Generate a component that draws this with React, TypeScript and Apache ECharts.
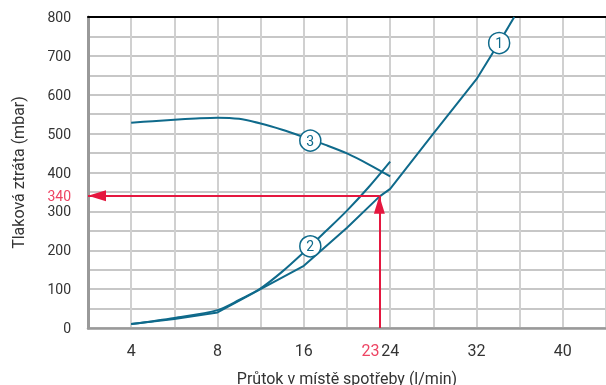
import React, { useEffect, useRef } from "react";
import * as echarts from "echarts";

// Flow (l/min) and pressure loss (mbar) for each curve
const flow1 = [4, 6, 8, 16, 20, 23, 24, 28, 32, 34, 35.5];
const loss1 = [10, 23, 40, 160, 258, 338, 358, 500, 640, 730, 800];

const flow2 = [4, 6, 8, 10, 12, 14, 16, 18, 20, 22, 24];
const loss2 = [10, 26, 46, 72, 102, 145, 195, 248, 302, 362, 428];

const flow3 = [4, 5, 6, 7, 8, 10, 12, 14, 16, 18, 20, 22, 24];
const loss3 = [528, 532, 536, 539, 541, 538, 526, 510, 491, 471, 449, 421, 390];

// Curve markers: [flow, loss, label]
const marker1: [number, number, string] = [34.1, 733, "1"];
const marker2: [number, number, string] = [16.6, 210, "2"];
const marker3: [number, number, string] = [16.6, 482, "3"];

// Reading example
const readFlow = 23;
const readLoss = 340;

// Tick labels of the piecewise flow axis
const xTickFlows = [4, 8, 16, 24, 32, 40];

const TEAL = "#0f6a8b";
const RED = "#e5173f";
const TEXT = "#333333";

// piecewise flow axis: 4..8 same width as 8..16, 16..24, ...
const toAxis = (q: number) => (q <= 8 ? 1 + (q - 4) / 4 : 2 + (q - 8) / 8);

const pts = (f: number[], l: number[]) => f.map((q, i) => [toAxis(q), l[i]]);

const markPointFor = (m: [number, number, string]) => ({
  symbol: "circle",
  symbolSize: 21,
  itemStyle: { color: "#ffffff", borderColor: TEAL, borderWidth: 1.5 },
  label: {
    show: true,
    position: "inside",
    formatter: m[2],
    color: TEAL,
    fontSize: 14,
    fontFamily: "Roboto",
  },
  data: [{ coord: [toAxis(m[0]), m[1]] }],
});

export default function App() {
  const ref = useRef<HTMLDivElement>(null);
  useEffect(() => {
    if (!ref.current) return;
    const chart = echarts.init(ref.current, null, { renderer: "svg" });
    const xLabelMap: Record<string, string> = {};
    xTickFlows.forEach((q) => (xLabelMap[String(toAxis(q))] = String(q)));

    const lineSeries = (data: number[][], m: [number, number, string], smooth: boolean | number) => ({
      type: "line",
      data,
      smooth,
      symbol: "none",
      lineStyle: { color: TEAL, width: 2 },
      markPoint: markPointFor(m),
      z: 3,
    });

    chart.setOption({
      animation: false,
      textStyle: { fontFamily: "Roboto", color: TEXT },
      grid: {
        left: 88,
        top: 17,
        right: 0,
        bottom: 57,
        containLabel: false,
        outerBoundsMode: "none",
      },
      xAxis: [
        {
          type: "value",
          min: 0.5,
          max: 6.5,
          interval: 0.5,
          position: "bottom",
          name: "Průtok v místě spotřeby (l/min)",
          nameLocation: "middle",
          nameGap: 42,
          nameTextStyle: { fontSize: 16, color: TEXT, fontFamily: "Roboto" },
          axisLine: { show: true, onZero: false, lineStyle: { color: "#999999", width: 2.5 } },
          axisTick: { show: false },
          axisLabel: {
            fontSize: 16,
            color: TEXT,
            margin: 14,
            showMinLabel: false,
            showMaxLabel: false,
            formatter: (v: number) => xLabelMap[String(v)] ?? "",
          },
          splitLine: { show: true, lineStyle: { color: "#d0d0d0", width: 2 } },
        },
        {
          type: "value",
          min: 0.5,
          max: 6.5,
          position: "bottom",
          axisLine: { show: false },
          axisTick: { show: false },
          splitLine: { show: false },
          axisLabel: {
            customValues: [toAxis(readFlow)],
            formatter: () => String(readFlow),
            align: "right",
            fontSize: 16,
            color: "#ee4463",
            margin: 14,
          },
        },
        {
          type: "value",
          min: 0.5,
          max: 6.5,
          position: "top",
          axisLine: { show: true, onZero: false, lineStyle: { color: "#000000", width: 2 } },
          axisTick: { show: false },
          axisLabel: { show: false },
          splitLine: { show: false },
        },
      ],
      yAxis: [
        {
          type: "value",
          min: 0,
          max: 800,
          interval: 50,
          name: "Tlaková ztráta (mbar)",
          nameLocation: "middle",
          nameGap: 62,
          nameTextStyle: { fontSize: 16, color: TEXT, fontFamily: "Roboto" },
          axisLine: { show: true, onZero: false, lineStyle: { color: "#999999", width: 3 } },
          axisTick: { show: false },
          axisLabel: {
            fontSize: 14,
            color: TEXT,
            margin: 17,
            formatter: (v: number) => (v % 100 === 0 ? String(v) : ""),
          },
          splitLine: { show: true, lineStyle: { color: "#b4b4b4", width: 1.5 } },
        },
        {
          type: "value",
          min: 0,
          max: 800,
          position: "left",
          axisLine: { show: false },
          axisTick: { show: false },
          splitLine: { show: false },
          axisLabel: {
            customValues: [readLoss],
            fontSize: 14,
            color: "#ee4463",
            margin: 17,
          },
        },
      ],
      series: [
        lineSeries(pts(flow1, loss1), marker1, false),
        lineSeries(pts(flow2, loss2), marker2, 0.3),
        lineSeries(pts(flow3, loss3), marker3, 0.3),
        {
          type: "line",
          data: [],
          symbol: "none",
          markLine: {
            silent: true,
            lineStyle: { color: RED, width: 2, type: "solid" },
            label: { show: false },
            emphasis: { disabled: true },
            data: [
              [
                { coord: [toAxis(readFlow), 0], symbol: "none" },
                {
                  coord: [toAxis(readFlow), readLoss],
                  symbol: "triangle",
                  symbolSize: [11, 18],
                  symbolOffset: [0, 9],
                },
              ],
              [
                { coord: [toAxis(readFlow), readLoss], symbol: "none" },
                {
                  coord: [0.5, readLoss],
                  symbol: "triangle",
                  symbolSize: [11, 18],
                  symbolOffset: [0, 9],
                },
              ],
            ],
          },
          z: 4,
        },
      ],
    });
    return () => chart.dispose();
  }, []);
  return (
    <div
      ref={ref}
      style={{ position: "fixed", left: 0, top: 0, width: 606, height: 385 }}
    />
  );
}
